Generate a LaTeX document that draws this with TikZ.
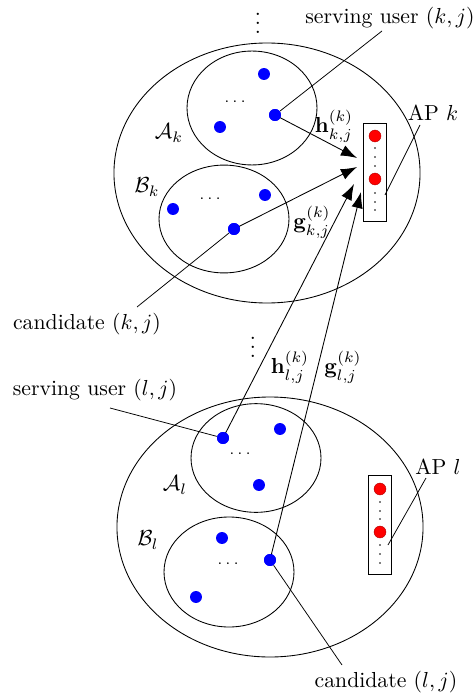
\documentclass[tikz,border=0pt]{standalone}
\usetikzlibrary{arrows.meta}
\begin{document}
\begin{tikzpicture}[x=0.46pt,y=-0.46pt,
  ue/.style={circle,fill=blue,inner sep=0pt,minimum size=5.5pt},
  apdot/.style={circle,fill=red,draw=red!70!black,line width=0.2pt,inner sep=0pt,minimum size=5.5pt},
  tinydot/.style={circle,fill=black,inner sep=0pt,minimum size=0.9pt},
  region/.style={draw,line width=0.4pt},
  lead/.style={draw,line width=0.35pt},
  chan/.style={draw,line width=0.4pt,-{Latex[length=7.4pt,width=5.2pt]}},
  apbox/.style={draw,line width=0.45pt,minimum width=11pt,minimum height=45.5pt,inner sep=0pt},
  lbl/.style={inner sep=1pt}
]
\useasboundingbox (0,0) rectangle (473,694);

% ---------- cell k ----------
\draw[region] (267,173) ellipse [x radius=70.4pt, y radius=59.8pt];
\draw[region] (252,108) ellipse [x radius=29.9pt, y radius=26.2pt];
\draw[region] (224,219) ellipse [x radius=29.9pt, y radius=24.8pt];

\node[lbl] (Ak) at (169,133) {$\mathcal{A}_k$};
\node[lbl] (Bk) at (147,187) {$\mathcal{B}_k$};

\node[ue] (ak1) at (264,74) {};
\node[ue] (ak2) at (220,127) {};
\node[ue] (ak3) at (275,115) {};
\node (akd) at (235,102) {\scriptsize$\cdots$};
\node[ue] (bk1) at (173,209) {};
\node[ue] (bk2) at (265,195) {};
\node[ue] (bk3) at (234,229) {};
\node (bkd) at (210,199) {\scriptsize$\cdots$};

\node[apbox] (APk) at (375,172.5) {};
\node[apdot] (rk1) at (375,136) {};
\node[apdot] (rk2) at (375,179) {};
\foreach \y [count=\i] in {148,157,166,193,202,210} \node[tinydot] (tk\i) at (375,\y) {};

\node[lbl] (tvd) at (258,17) {$\vdots$};
\node[lbl] (sk) at (390,18) {serving user $(k,j)$};
\node[lbl] (apk) at (433,113) {AP $k$};
\node[lbl] (ck) at (87,324) {candidate $(k,j)$};

\coordinate (skE) at (382,31);
\coordinate (apkE) at (420,125);
\coordinate (apkF) at (385,195);
\coordinate (ckE) at (137,307);
\draw[lead] (skE) -- (ak3);
\draw[lead] (apkE) -- (apkF);
\draw[lead] (ckE) -- (bk3);

% arrow tips at AP k
\coordinate (t1) at (357,158);
\coordinate (t2) at (357,167);
\coordinate (t3) at (354,184);
\coordinate (t4) at (361,192);

\draw[chan] (ak3.center) -- (t1);
\draw[chan] (bk3.center) -- (t2);

\node[lbl] (hkk) at (334,126) {$\mathbf{h}_{k,j}^{(k)}$};
\node[lbl] (gkk) at (312,222) {$\mathbf{g}_{k,j}^{(k)}$};

% ---------- middle ----------
\node[lbl] (mvd) at (253,341) {$\vdots$};
\node[lbl] (hlk) at (290,367) {$\mathbf{h}_{l,j}^{(k)}$};
\node[lbl] (glk) at (343,367) {$\mathbf{g}_{l,j}^{(k)}$};

% ---------- cell l ----------
\draw[region] (270,527) ellipse [x radius=70.4pt, y radius=59.8pt];
\draw[region] (256,458) ellipse [x radius=29.9pt, y radius=25pt];
\draw[region] (229,572) ellipse [x radius=29.9pt, y radius=25.3pt];

\node[lbl] (Al) at (175,485) {$\mathcal{A}_l$};
\node[lbl] (Bl) at (148,540) {$\mathcal{B}_l$};

\node[ue] (al1) at (223,438) {};
\node[ue] (al2) at (280,429) {};
\node[ue] (al3) at (259,485) {};
\node (ald) at (240,454) {\scriptsize$\cdots$};
\node[ue] (bl1) at (222,538) {};
\node[ue] (bl2) at (270,560) {};
\node[ue] (bl3) at (196,597) {};
\node (bld) at (228,564) {\scriptsize$\cdots$};

\node[apbox] (APl) at (380,525) {};
\node[apdot] (rl1) at (380,489) {};
\node[apdot] (rl2) at (380,532) {};
\foreach \y [count=\i] in {502,511,519,545,554,563} \node[tinydot] (tl\i) at (380,\y) {};

\node[lbl] (sl) at (95,390) {serving user $(l,j)$};
\node[lbl] (apl) at (438,467) {AP $l$};
\node[lbl] (cl) at (386,682) {candidate $(l,j)$};

\coordinate (slE) at (110,408);
\coordinate (aplE) at (426,478);
\coordinate (aplF) at (388,545);
\coordinate (clE) at (342,665);
\draw[lead] (slE) -- (al1);
\draw[lead] (aplE) -- (aplF);
\draw[lead] (clE) -- (bl2);

\draw[chan] (al1.center) -- (t3);
\draw[chan] (bl2.center) -- (t4);

% redraw dots above lines
\node[ue] at (al1) {};
\node[ue] at (bl2) {};
\node[ue] at (ak3) {};
\node[ue] at (bk3) {};
\end{tikzpicture}
\end{document}
